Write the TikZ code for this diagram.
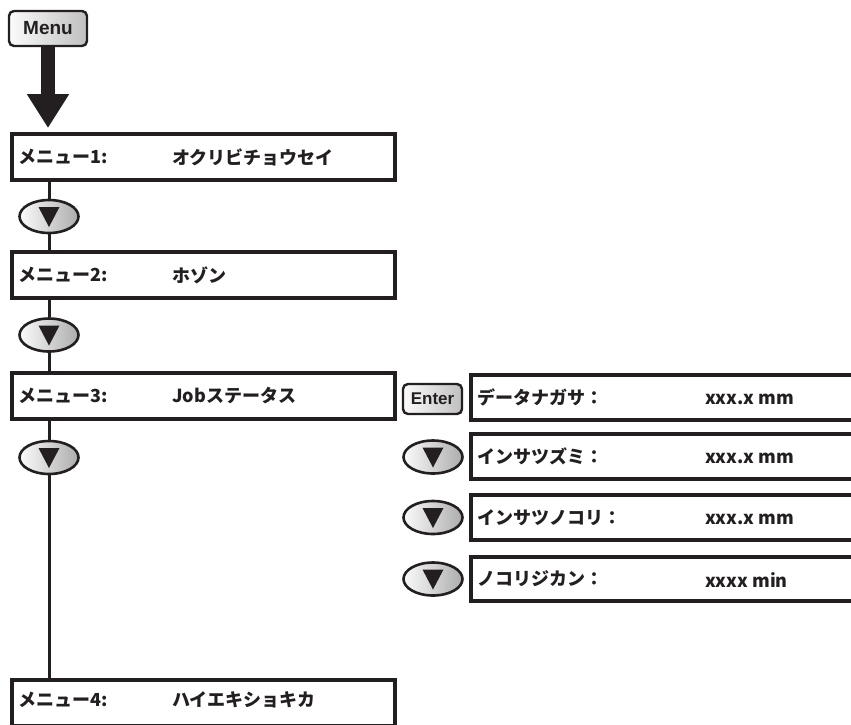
\documentclass[tikz,border=0pt]{standalone}
\usepackage{fontspec}
\setmainfont{Noto Sans CJK JP}
\newfontfamily\keyfont{Liberation Sans}
\usetikzlibrary{shapes.geometric,arrows.meta}
\definecolor{ink}{RGB}{35,31,32}
\tikzset{
  mbox/.style={draw=ink, line width=4pt, fill=white, minimum height=46pt, inner sep=0pt, outer sep=2pt},
  lbl/.style={anchor=west, text=ink, inner sep=0pt, font=\bfseries\fontsize{18}{20}\selectfont},
  conn/.style={draw=ink, line width=3pt},
  downkey/.style={ellipse, draw=ink, line width=2.6pt, left color=gray!3, right color=gray!65,
    minimum width=59pt, minimum height=33pt, inner sep=0pt,
    path picture={\fill[ink] ([xshift=-10.5pt,yshift=9.5pt]path picture bounding box.center) -- ++(21pt,0pt) -- ++(-10.5pt,-20pt) -- cycle;}},
  keybtn/.style={draw=ink, line width=2.4pt, rounded corners=5pt, left color=gray!3, right color=gray!50,
    inner sep=0pt, text=ink}
}
\begin{document}
\begin{tikzpicture}[x=1pt,y=-1pt]
\useasboundingbox (0,0) rectangle (851,724);
\clip (0,0) rectangle (851,724);
% Menu key and big arrow
\node[keybtn, minimum width=78pt, minimum height=35pt, font=\keyfont\bfseries\fontsize{19}{21}\selectfont] (menu) at (48,28.5) {Menu};
\coordinate (tip) at (48,128);
\draw[ink, line width=14pt, -{Triangle[width=40pt,length=34pt]}] (menu.south) -- (tip);
% left boxes
\node[mbox, minimum width=383pt] (b1) at (203.5,157) {};
\node[mbox, minimum width=383pt] (b2) at (203.5,275) {};
\node[mbox, minimum width=383pt] (b3) at (203.5,395.5) {};
\node[mbox, minimum width=383pt] (b4) at (203.5,703) {};
\node[lbl] (l1) at (18,157) {メニュー1:};
\node[lbl] (v1) at (172,157) {オクリビチョウセイ};
\node[lbl] (l2) at (18,275) {メニュー2:};
\node[lbl] (v2) at (172,275) {ホゾン};
\node[lbl] (l3) at (18,395.5) {メニュー3:};
\node[lbl] (v3) at (172,395.5) {Jobステータス};
\node[lbl] (l4) at (18,700) {メニュー4:};
\node[lbl] (v4) at (172,700) {ハイエキショキカ};
% left down keys
\node[downkey] (e1) at (49,216.5) {};
\node[downkey] (e2) at (49,335) {};
\node[downkey] (e3) at (49,457.5) {};
\draw[conn] (e1.north |- b1.south) -- (e1.north);
\draw[conn] (e1.south) -- (e1.south |- b2.north);
\draw[conn] (e2.north |- b2.south) -- (e2.north);
\draw[conn] (e2.south) -- (e2.south |- b3.north);
\draw[conn] (e3.north |- b3.south) -- (e3.north);
\draw[conn] (e3.south) -- (e3.south |- b4.north);
% right side
\node[keybtn, minimum width=59pt, minimum height=30pt, font=\keyfont\bfseries\fontsize{17}{19}\selectfont] (enter) at (432.5,399) {Enter};
\node[mbox, minimum width=400pt, minimum height=45pt, anchor=west] (ra) at (469,397.5) {};
\node[mbox, minimum width=400pt, minimum height=45pt, anchor=west] (rb) at (469,456.5) {};
\node[mbox, minimum width=400pt, minimum height=45pt, anchor=west] (rc) at (469,517.5) {};
\node[mbox, minimum width=400pt, minimum height=44pt, anchor=west] (rd) at (469,579) {};
\node[downkey] (k2) at (433,457) {};
\node[downkey] (k3) at (433,517.5) {};
\node[downkey] (k4) at (433,579) {};
\node[lbl] (ta) at (477,397.5) {データナガサ：};
\node[lbl] (tb) at (477,456.5) {インサツズミ：};
\node[lbl] (tc) at (477,517.5) {インサツノコリ：};
\node[lbl] (td) at (477,579) {ノコリジカン：};
\node[lbl] (xa) at (705,399) {xxx.x mm};
\node[lbl] (xb) at (705,458) {xxx.x mm};
\node[lbl] (xc) at (705,519) {xxx.x mm};
\node[lbl] (xd) at (705,580) {xxxx min};
\end{tikzpicture}
\end{document}
